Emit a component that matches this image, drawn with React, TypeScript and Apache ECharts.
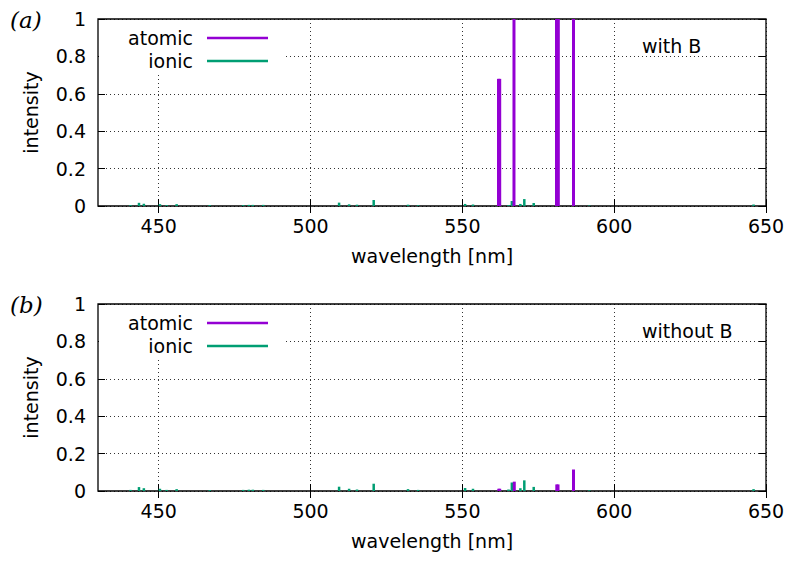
import React, { useEffect, useRef } from 'react';
import * as echarts from 'echarts';

const xTickValues = [450, 500, 550, 600, 650];
const xMin = 430;
const xMax = 650;

const atomicWlA = [561.9, 562.3, 567.0, 581.0, 581.6, 586.6];
const atomicIntA = [0.68, 0.68, 1.0, 1.0, 1.0, 1.0];
const atomicWlB = [562.0, 562.3, 567.1, 581.1, 581.5, 586.6];
const atomicIntB = [0.012, 0.012, 0.05, 0.035, 0.035, 0.115];

const ionicWl = [440.7, 443.5, 445.1, 450.4, 452.6, 455.9, 466.8, 477.8, 479.7, 481.0, 484.4, 509.4, 512.7, 515.3, 520.8, 532.1, 535.4, 550.9, 553.5, 565.2, 566.3, 569.1, 570.4, 573.5, 591.8, 645.9];
const ionicIntA = [0.005, 0.017, 0.012, 0.01, 0.005, 0.01, 0.005, 0.005, 0.006, 0.006, 0.006, 0.018, 0.009, 0.007, 0.032, 0.007, 0.004, 0.011, 0.008, 0.005, 0.027, 0.011, 0.037, 0.016, 0.003, 0.008];
const ionicIntB = [0.006, 0.021, 0.015, 0.012, 0.006, 0.01, 0.005, 0.006, 0.007, 0.007, 0.006, 0.023, 0.012, 0.008, 0.039, 0.01, 0.006, 0.016, 0.012, 0.008, 0.045, 0.015, 0.057, 0.022, 0.004, 0.01];

const panelNotes = ['with B', 'without B'];
const panelTags = ['(a)', '(b)'];

const PURPLE = '#9400D3';
const GREEN = '#009E73';
const FONT = 'DejaVu Sans';
const FS = 19;

const GRID_TOPS = [19, 304];
const GRID_LEFT = 98;
const GRID_W = 668;
const GRID_H = 187;

function zip(a: number[], b: number[]) {
  return a.map((v, i) => [v, b[i]]);
}

function makeRender(w: number) {
  return (params: any, api: any) => {
    const x = api.value(0);
    const y = api.value(1);
    const p0 = api.coord([x, 0]);
    const p1 = api.coord([x, y]);
    return {
      type: 'rect',
      shape: { x: p0[0] - w / 2, y: p1[1], width: w, height: p0[1] - p1[1] },
      style: { fill: api.visual('color') },
    };
  };
}

export default function App() {
  const ref = useRef<HTMLDivElement>(null);
  useEffect(() => {
    document.body.style.margin = '0';
    if (!ref.current) return;
    const chart = echarts.init(ref.current, undefined, { renderer: 'svg' });

    const grids: any[] = [];
    const xAxes: any[] = [];
    const yAxes: any[] = [];
    const series: any[] = [];
    const graphics: any[] = [];

    const atomicSets = [zip(atomicWlA, atomicIntA), zip(atomicWlB, atomicIntB)];
    const ionicSets = [zip(ionicWl, ionicIntA), zip(ionicWl, ionicIntB)];

    GRID_TOPS.forEach((top, g) => {
      grids.push({
        left: GRID_LEFT, top, width: GRID_W, height: GRID_H,
        show: true, borderColor: '#000', borderWidth: 1.3, backgroundColor: 'transparent',
      });
      const common = {
        type: 'value', min: xMin, max: xMax, gridIndex: g,
      };
      xAxes.push({
        ...common,
        position: 'bottom',
        axisLine: { show: false },
        axisTick: { show: true, inside: true, length: 7, lineStyle: { color: '#000', width: 1 }, customValues: xTickValues },
        axisLabel: { show: true, customValues: xTickValues, margin: 10, fontFamily: FONT, fontSize: FS, color: '#000' },
        splitLine: { show: true, lineStyle: { color: '#000', type: [1, 3], width: 1, opacity: 0.8 } },
        name: 'wavelength [nm]', nameLocation: 'middle', nameGap: 40,
        nameTextStyle: { fontFamily: FONT, fontSize: FS, color: '#000' },
      });
      xAxes.push({
        ...common,
        position: 'top',
        axisLine: { show: false },
        axisTick: { show: true, inside: true, length: 7, lineStyle: { color: '#000', width: 1 }, customValues: xTickValues },
        axisLabel: { show: false },
        splitLine: { show: false },
      });
      yAxes.push({
        type: 'value', min: 0, max: 1, interval: 0.2, gridIndex: g, position: 'left',
        axisLine: { show: false },
        axisTick: { show: true, inside: true, length: 7, lineStyle: { color: '#000', width: 1 } },
        axisLabel: { margin: 12, fontFamily: FONT, fontSize: FS, color: '#000' },
        splitLine: { show: true, lineStyle: { color: '#000', type: [1, 3], width: 1, opacity: 0.8 } },
        name: 'intensity', nameLocation: 'middle', nameGap: 58, nameRotate: 90,
        nameTextStyle: { fontFamily: FONT, fontSize: FS, color: '#000' },
      });
      yAxes.push({
        type: 'value', min: 0, max: 1, interval: 0.2, gridIndex: g, position: 'right',
        axisLine: { show: false },
        axisTick: { show: true, inside: true, length: 7, lineStyle: { color: '#000', width: 1 } },
        axisLabel: { show: false },
        splitLine: { show: false },
      });

      series.push({
        type: 'custom', name: 'ionic', xAxisIndex: g * 2, yAxisIndex: g * 2,
        renderItem: makeRender(2.5), data: ionicSets[g], itemStyle: { color: GREEN },
        encode: { x: 0, y: 1 }, z: 3,
      });
      series.push({
        type: 'custom', name: 'atomic', xAxisIndex: g * 2, yAxisIndex: g * 2,
        renderItem: makeRender(3), data: atomicSets[g], itemStyle: { color: PURPLE },
        encode: { x: 0, y: 1 }, z: 4,
      });

      // legend box (opaque) and entries
      graphics.push({
        type: 'rect', shape: { x: GRID_LEFT + 1, y: top + 1, width: 184, height: 52 },
        style: { fill: '#fff' }, z: 50,
      });
      const entries = [['atomic', PURPLE, 19], ['ionic', GREEN, 42]] as [string, string, number][];
      entries.forEach(([label, color, dy]) => {
        graphics.push({
          type: 'text', x: 193, y: top + dy,
          style: { text: label, fontFamily: FONT, fontSize: FS, fill: '#000', align: 'right', verticalAlign: 'middle' },
          z: 51,
        });
        graphics.push({
          type: 'line', shape: { x1: 207, y1: top + dy, x2: 268, y2: top + dy },
          style: { stroke: color, lineWidth: 2.5 }, z: 51,
        });
      });
      graphics.push({
        type: 'text', x: 642, y: top + 27,
        style: { text: panelNotes[g], fontFamily: FONT, fontSize: FS, fill: '#000', align: 'left', verticalAlign: 'middle' },
        z: 51,
      });
      graphics.push({
        type: 'text', x: 10, y: top + 1,
        style: { text: panelTags[g], fontFamily: 'DejaVu Serif', fontStyle: 'italic', fontSize: 23, fill: '#000', align: 'left', verticalAlign: 'middle' },
        z: 51,
      });
    });

    chart.setOption({
      animation: false,
      backgroundColor: '#fff',
      grid: grids,
      xAxis: xAxes,
      yAxis: yAxes,
      series,
      graphic: graphics,
    });
    return () => chart.dispose();
  }, []);
  return <div ref={ref} style={{ width: 788, height: 563 }} />;
}
